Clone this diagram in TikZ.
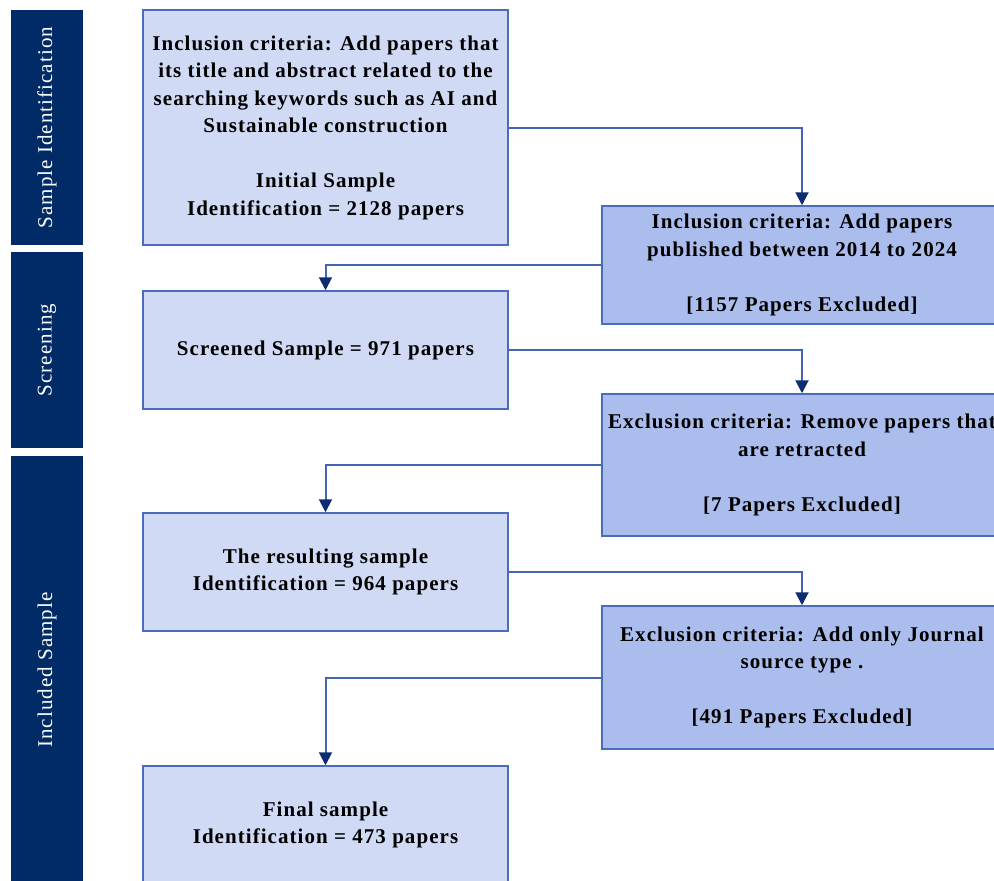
\documentclass[tikz,border=0pt]{standalone}
\usepackage{fontspec}
\setmainfont{Liberation Serif}[LetterSpace=5]
\usetikzlibrary{arrows.meta}
\definecolor{barblue}{HTML}{002B67}
\definecolor{lightfill}{HTML}{D0DAF5}
\definecolor{midfill}{HTML}{AABDED}
\definecolor{edgeblue}{HTML}{4A6DBA}
\definecolor{linkblue}{HTML}{4466B2}
\definecolor{tipblue}{HTML}{0E2C72}
\tikzset{
  phasebar/.style={fill=barblue, draw=none, minimum height=72pt, inner sep=0pt,
    text=white, font=\fontsize{21}{24}\selectfont, rotate=90},
  stagebox/.style={draw=edgeblue, line width=1.5pt, fill=lightfill,
    minimum width=365pt, inner sep=0pt, align=center,
    font=\bfseries\fontsize{21}{27.5}\selectfont},
  filterbox/.style={stagebox, fill=midfill, minimum width=400pt},
  link/.style={draw=linkblue, line width=2pt,
    -{Triangle[length=13pt,width=13pt,color=tipblue]}}
}
\begin{document}
\begin{tikzpicture}[x=1pt,y=1pt]
\useasboundingbox (0,0) rectangle (994,-881);
\clip (0,0) rectangle (994,-881);

% phase bars on the left
\node[phasebar, minimum width=235pt] (barA) at (47,-127.5) {Sample Identification};
\node[phasebar, minimum width=196pt] (barB) at (47,-350) {Screening};
\node[phasebar, minimum width=428pt] (barC) at (47,-670) {Included Sample};

% main sample column
\node[stagebox, minimum height=235pt] (s1) at (325.5,-127.5)
  {Inclusion criteria: Add papers that\\its title and abstract related to the\\searching keywords such as AI and\\Sustainable construction\\[27.5pt]Initial Sample\\Identification = 2128 papers};
\node[stagebox, minimum height=118pt] (s2) at (325.5,-350) {Screened Sample = 971 papers};
\node[stagebox, minimum height=118pt] (s3) at (325.5,-572)
  {The resulting sample\\Identification = 964 papers};
\node[stagebox, minimum height=118pt] (s4) at (325.5,-825)
  {Final sample\\Identification = 473 papers};

% filtering criteria column
\node[filterbox, minimum height=118pt] (f1) at (802,-265)
  {Inclusion criteria: Add papers\\published between 2014 to 2024\\[27.5pt][1157 Papers Excluded]};
\node[filterbox, minimum height=142pt] (f2) at (802,-465)
  {Exclusion criteria: Remove papers that\\are retracted\\[27.5pt][7 Papers Excluded]};
\node[filterbox, minimum height=143pt] (f3) at (802,-677.5)
  {Exclusion criteria: Add only Journal\\source type .\\[27.5pt][491 Papers Excluded]};

% connectors
\draw[link] (s1.east) -| (f1.north);
\draw[link] (f1.west) -| (s2.north);
\draw[link] (s2.east) -| (f2.north);
\draw[link] (f2.west) -| (s3.north);
\draw[link] (s3.east) -| (f3.north);
\draw[link] (f3.west) -| (s4.north);
\end{tikzpicture}
\end{document}
